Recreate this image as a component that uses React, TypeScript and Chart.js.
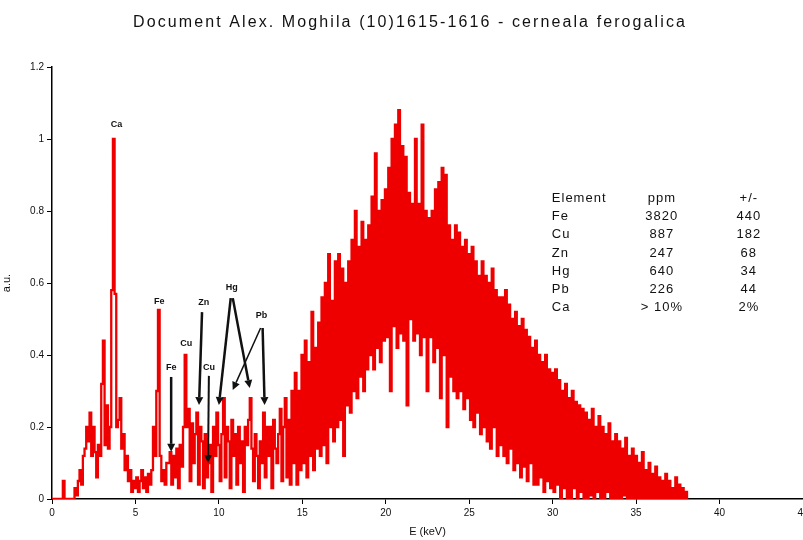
import { useEffect, useRef } from 'react';
import { Chart, registerables } from 'chart.js';

Chart.register(...registerables);

// ---- data ---------------------------------------------------------------

const TITLE = 'Document Alex. Moghila (10)1615-1616 - cerneala ferogalica';
const X_TITLE = 'E (keV)';
const Y_TITLE = 'a.u.';

// channel width of the spectrum, keV
const CHANNEL_KEV = 0.1;

// normalised XRF spectrum, one row per keV (0.0 ... 0.9 within the row)
const SPECTRUM: number[] = [
  0, 0, 0, 0, 0, 0, 0, 0.05, 0, 0, // 0
  0, 0, 0, 0, 0.03, 0.01, 0.05, 0.08, 0.04, 0.12, // 1
  0.14, 0.2, 0.16, 0.24, 0.12, 0.2, 0.13, 0.06, 0.15, 0.12, // 2
  0.32, 0.44, 0.15, 0.26, 0.14, 0.2, 0.58, 1.0, 0.57, 0.2, // 3
  0.22, 0.28, 0.14, 0.18, 0.08, 0.12, 0.05, 0.08, 0.02, 0.05, // 4
  0.03, 0.06, 0.02, 0.05, 0.08, 0.03, 0.06, 0.02, 0.07, 0.04, // 5
  0.08, 0.2, 0.12, 0.3, 0.525, 0.12, 0.05, 0.08, 0.04, 0.1, // 6
  0.1, 0.13, 0.04, 0.12, 0.06, 0.14, 0.03, 0.15, 0.09, 0.2, // 7
  0.4, 0.2, 0.25, 0.05, 0.21, 0.1, 0.18, 0.24, 0.04, 0.2, // 8
  0.16, 0.03, 0.18, 0.06, 0.1, 0.15, 0.02, 0.2, 0.12, 0.24, // 9
  0.15, 0.05, 0.18, 0.28, 0.06, 0.2, 0.16, 0.03, 0.22, 0.12, // 10
  0.18, 0.04, 0.2, 0.1, 0.16, 0.02, 0.2, 0.15, 0.22, 0.28, // 11
  0.14, 0.05, 0.18, 0.12, 0.03, 0.16, 0.1, 0.24, 0.06, 0.2, // 12
  0.12, 0.2, 0.03, 0.22, 0.14, 0.1, 0.18, 0.25, 0.05, 0.2, // 13
  0.28, 0.06, 0.22, 0.04, 0.3, 0.1, 0.35, 0.04, 0.3, 0.08, // 14
  0.4, 0.1, 0.44, 0.06, 0.38, 0.12, 0.52, 0.08, 0.42, 0.14, // 15
  0.49, 0.12, 0.56, 0.15, 0.6, 0.1, 0.68, 0.2, 0.55, 0.16, // 16
  0.66, 0.2, 0.68, 0.22, 0.64, 0.12, 0.6, 0.26, 0.66, 0.24, // 17
  0.72, 0.3, 0.8, 0.28, 0.7, 0.34, 0.77, 0.3, 0.72, 0.36, // 18
  0.76, 0.4, 0.84, 0.36, 0.96, 0.42, 0.8, 0.38, 0.83, 0.44, // 19
  0.86, 0.45, 0.92, 0.3, 1.0, 0.48, 1.04, 0.42, 1.08, 0.46, // 20
  0.98, 0.44, 0.95, 0.26, 0.85, 0.5, 0.82, 0.44, 1.0, 0.46, // 21
  0.82, 0.4, 1.04, 0.45, 0.8, 0.3, 0.78, 0.45, 0.8, 0.38, // 22
  0.86, 0.42, 0.88, 0.28, 0.92, 0.4, 0.9, 0.2, 0.76, 0.34, // 23
  0.72, 0.3, 0.76, 0.28, 0.74, 0.3, 0.7, 0.25, 0.72, 0.28, // 24
  0.68, 0.22, 0.7, 0.2, 0.66, 0.24, 0.62, 0.18, 0.66, 0.2, // 25
  0.62, 0.16, 0.6, 0.14, 0.64, 0.2, 0.58, 0.12, 0.56, 0.15, // 26
  0.56, 0.12, 0.58, 0.1, 0.54, 0.14, 0.5, 0.08, 0.52, 0.1, // 27
  0.48, 0.06, 0.5, 0.09, 0.47, 0.05, 0.45, 0.1, 0.42, 0.04, // 28
  0.44, 0.04, 0.4, 0.06, 0.38, 0.02, 0.4, 0.05, 0.36, 0.03, // 29
  0.35, 0.02, 0.36, 0.04, 0.33, 0, 0.3, 0.03, 0.32, 0, // 30
  0.28, 0, 0.3, 0.03, 0.27, 0, 0.26, 0.02, 0.25, 0, // 31
  0.24, 0, 0.22, 0.01, 0.25, 0, 0.2, 0.02, 0.23, 0, // 32
  0.2, 0, 0.18, 0.02, 0.21, 0, 0.16, 0, 0.18, 0, // 33
  0.16, 0, 0.14, 0.01, 0.17, 0, 0.12, 0, 0.14, 0, // 34
  0.12, 0, 0.1, 0, 0.13, 0, 0.08, 0, 0.1, 0, // 35
  0.07, 0, 0.09, 0, 0.06, 0, 0.05, 0, 0.07, 0, // 36
  0.05, 0, 0.03, 0, 0.06, 0, 0.04, 0, 0.03, 0, // 37
  0.02, 0, // 38
];

const Y_TICK_LABELS = ['0', '0.2', '0.4', '0.6', '0.8', '1', '1.2'];

// peak labels: text, energy (keV), height (a.u.)
const PEAK_TEXT = ['Ca', 'Fe', 'Cu', 'Fe', 'Zn', 'Cu', 'Hg', 'Pb'];
const PEAK_KEV = [3.87, 6.43, 8.04, 7.14, 9.1, 9.4, 10.77, 12.56];
const PEAK_Y = [1.04, 0.547, 0.43, 0.364, 0.544, 0.364, 0.586, 0.508];

// arrows from a label down to its line: [keV, a.u.] start and end
const ARROW_FROM: [number, number][] = [
  [7.14, 0.339], [8.99, 0.519], [9.4, 0.342],
  [10.71, 0.558], [10.83, 0.558], [12.5, 0.475], [12.62, 0.475],
];
const ARROW_TO: [number, number][] = [
  [7.14, 0.131], [8.81, 0.261], [9.35, 0.1],
  [10.0, 0.261], [11.85, 0.308], [10.83, 0.303], [12.74, 0.261],
];
const ARROW_WIDTH = [2.5, 2.5, 2, 2.5, 2.5, 1.5, 2.5];

// concentration table
const TABLE_HEAD = ['Element', 'ppm', '+/-'];
const TABLE_ELEMENT = ['Fe', 'Cu', 'Zn', 'Hg', 'Pb', 'Ca'];
const TABLE_PPM = ['3820', '887', '247', '640', '226', '> 10%'];
const TABLE_ERR = ['440', '182', '68', '34', '44', '2%'];
const TABLE_ANCHOR: [number, number] = [29.95, 0.836];

// ---- drawing ------------------------------------------------------------

const FONT = '"Liberation Sans", Arial, sans-serif';

function drawArrow(ctx: CanvasRenderingContext2D, x0: number, y0: number, x1: number, y1: number, w: number) {
  const ang = Math.atan2(y1 - y0, x1 - x0);
  const headLen = 8;
  const headHalf = 4;
  const bx = x1 - Math.cos(ang) * headLen;
  const by = y1 - Math.sin(ang) * headLen;
  ctx.lineWidth = w;
  ctx.beginPath();
  ctx.moveTo(x0, y0);
  ctx.lineTo(bx, by);
  ctx.stroke();
  ctx.beginPath();
  ctx.moveTo(x1, y1);
  ctx.lineTo(bx + Math.sin(ang) * headHalf, by - Math.cos(ang) * headHalf);
  ctx.lineTo(bx - Math.sin(ang) * headHalf, by + Math.cos(ang) * headHalf);
  ctx.closePath();
  ctx.fill();
}

const notesPlugin = {
  id: 'xrfNotes',
  afterDraw(chart: any) {
    const { ctx } = chart;
    const xs = chart.scales.x;
    const ys = chart.scales.y;
    ctx.save();
    ctx.fillStyle = '#111';
    ctx.strokeStyle = '#111';

    // chart title
    ctx.font = `16px ${FONT}`;
    (ctx as any).letterSpacing = '2.1px';
    ctx.textAlign = 'center';
    ctx.textBaseline = 'middle';
    ctx.fillText(TITLE, 410, 23);

    // peak labels
    ctx.font = `bold 9px ${FONT}`;
    (ctx as any).letterSpacing = '0px';
    ctx.textBaseline = 'bottom';
    PEAK_TEXT.forEach((t, i) => {
      ctx.fillText(t, xs.getPixelForValue(PEAK_KEV[i]), ys.getPixelForValue(PEAK_Y[i]) + 4);
    });

    // arrows
    ARROW_FROM.forEach((f, i) => {
      const t = ARROW_TO[i];
      drawArrow(
        ctx,
        xs.getPixelForValue(f[0]), ys.getPixelForValue(f[1]),
        xs.getPixelForValue(t[0]), ys.getPixelForValue(t[1]),
        ARROW_WIDTH[i],
      );
    });

    // concentration table
    const tx = xs.getPixelForValue(TABLE_ANCHOR[0]);
    const ty = ys.getPixelForValue(TABLE_ANCHOR[1]);
    const rowH = 18.3;
    ctx.font = `13px ${FONT}`;
    (ctx as any).letterSpacing = '1px';
    ctx.textBaseline = 'middle';
    const rows = [TABLE_HEAD, ...TABLE_ELEMENT.map((e, i) => [e, TABLE_PPM[i], TABLE_ERR[i]])];
    rows.forEach((r, i) => {
      const yy = ty + i * rowH;
      ctx.textAlign = 'left';
      ctx.fillText(r[0], tx, yy);
      ctx.textAlign = 'center';
      ctx.fillText(r[1], tx + 110, yy);
      ctx.fillText(r[2], tx + 197, yy);
    });
    ctx.restore();
  },
};

export default function App() {
  const canvasRef = useRef<HTMLCanvasElement | null>(null);

  useEffect(() => {
    const canvas = canvasRef.current;
    if (!canvas) return;
    Chart.defaults.font.family = FONT;

    const points = SPECTRUM.map((v, i) => ({ x: i * CHANNEL_KEV, y: v }));

    const chart = new Chart(canvas, {
      type: 'line',
      data: {
        datasets: [
          {
            data: points,
            stepped: 'middle',
            borderColor: 'rgb(238, 0, 0)',
            borderWidth: 2.3,
            pointRadius: 0,
            fill: false,
          },
        ],
      },
      options: {
        animation: false,
        responsive: false,
        events: [],
        layout: { padding: { top: 67, right: 27, bottom: 0, left: 0 } },
        plugins: { legend: { display: false }, tooltip: { enabled: false } },
        scales: {
          x: {
            type: 'linear',
            min: 0,
            max: 45,
            grid: { drawOnChartArea: false, drawTicks: true, tickLength: 5, color: '#000' },
            border: { display: true, color: '#000', width: 1.5 },
            ticks: { stepSize: 5, color: '#111', font: { size: 10 }, padding: 3, maxRotation: 0 },
            title: { display: true, text: X_TITLE, color: '#111', font: { size: 11 }, padding: { top: 0, bottom: 1 } },
            afterFit: (s: any) => { s.height = 41; },
          },
          y: {
            min: 0,
            max: 1.2,
            grid: { drawOnChartArea: false, drawTicks: true, tickLength: 5, color: '#000' },
            border: { display: true, color: '#000', width: 1.5 },
            ticks: {
              stepSize: 0.2,
              color: '#111',
              font: { size: 10 },
              padding: 3,
              callback: (_v: any, i: number) => Y_TICK_LABELS[i],
            },
            title: { display: true, text: Y_TITLE, color: '#111', font: { size: 11 }, padding: { top: 0, bottom: 0 } },
            afterFit: (s: any) => { s.width = 52; },
          },
        },
      },
      plugins: [notesPlugin],
    });
    return () => chart.destroy();
  }, []);

  return (
    <div style={{ position: 'fixed', left: 0, top: 0, width: 803, height: 540, overflow: 'hidden', background: '#fff' }}>
      <canvas ref={canvasRef} width={830} height={540} style={{ width: 830, height: 540, display: 'block' }} />
    </div>
  );
}
